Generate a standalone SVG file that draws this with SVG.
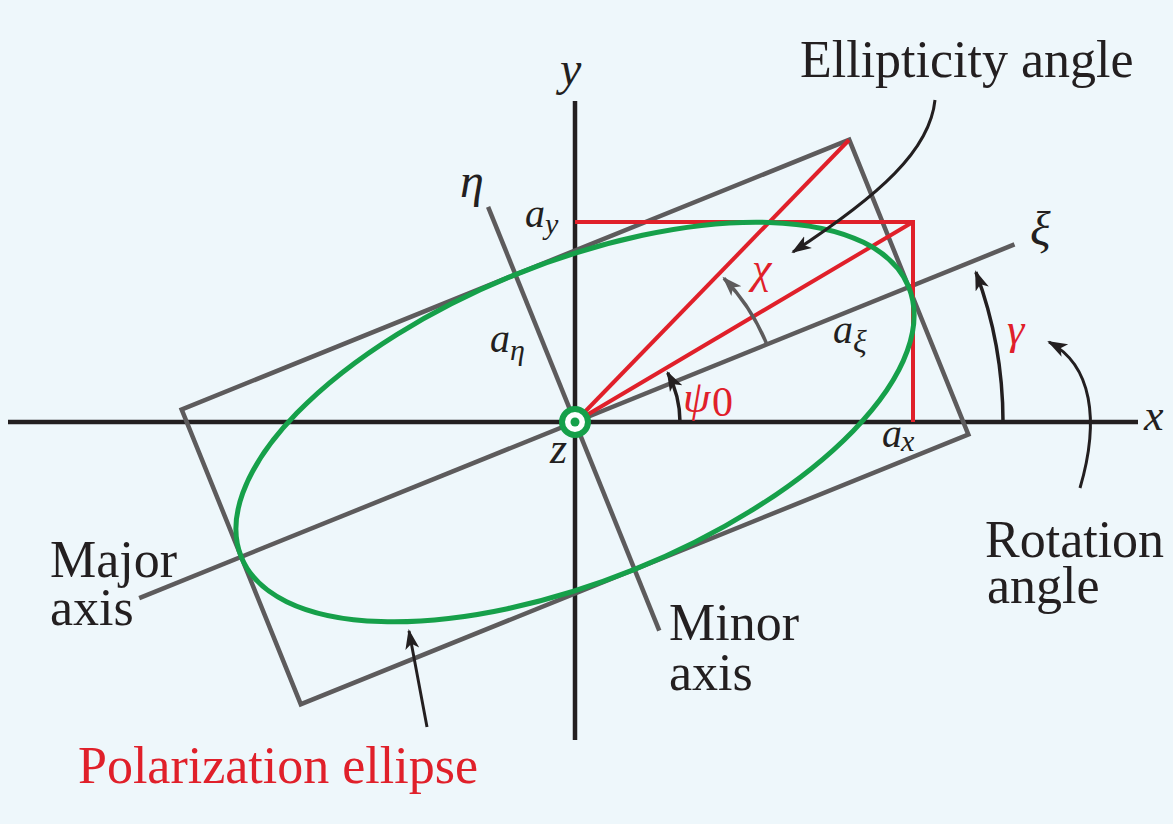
<svg xmlns="http://www.w3.org/2000/svg" width="1173" height="824" viewBox="0 0 1173 824">
<defs>
<style>
.lbl{font-family:"Liberation Serif","DejaVu Serif",serif;font-size:52px;fill:#231f20}
.it{font-family:"Liberation Serif","DejaVu Serif",serif;font-style:italic;fill:#231f20}
.up{font-family:"Liberation Serif","DejaVu Serif",serif;fill:#e0202a}
.red{fill:#e0202a}
.axis{stroke:#231f20;stroke-width:4.5;fill:none}
.gray{stroke:#5d5b5c;stroke-width:4.5;fill:none}
.redl{stroke:#e0202a;stroke-width:4;fill:none}
.ptr{stroke:#231f20;stroke-width:3;fill:none}
</style>
<marker id="ah" markerUnits="userSpaceOnUse" markerWidth="22" markerHeight="16" refX="18" refY="8" orient="auto">
<path d="M0,1 L20,8 L0,15 L5,8 Z" fill="#231f20"/>
</marker>
<marker id="ahg" markerUnits="userSpaceOnUse" markerWidth="22" markerHeight="16" refX="18" refY="8" orient="auto">
<path d="M0,1 L20,8 L0,15 L5,8 Z" fill="#5d5b5c"/>
</marker>
</defs>
<rect width="1173" height="824" fill="#eef7fb"/>

<g id="axes">
<line class="axis" x1="8" y1="422" x2="1138" y2="422"/>
<line class="axis" x1="575" y1="101" x2="575" y2="740"/>
</g>

<g id="rotated-frame" transform="translate(575,422) rotate(-22)">
<rect class="gray" x="-360" y="-159" width="720" height="318"/>
<line class="gray" x1="-470" y1="0" x2="474" y2="0"/>
<line class="gray" x1="0" y1="-232" x2="0" y2="225"/>
</g>

<g id="red-construction">
<polyline class="redl" points="575,222 913,222 913,422"/>
<line class="redl" x1="575" y1="422" x2="913" y2="222"/>
<line class="redl" x1="575" y1="422" x2="849" y2="140"/>
</g>

<g id="ellipse">
<ellipse cx="0" cy="0" rx="360" ry="159" transform="translate(575,422) rotate(-22)" fill="none" stroke="#16a04a" stroke-width="5"/>
</g>

<g id="origin">
<circle cx="575" cy="422" r="13" fill="#ffffff" stroke="#16a04a" stroke-width="6"/>
<circle cx="575" cy="422" r="4.5" fill="#16a04a"/>
</g>

<g id="connectors">
<path d="M680,422 A105,105 0 0 0 667.7,372.7" stroke="#231f20" stroke-width="3.5" fill="none" marker-end="url(#ah)"/>
<path d="M766.9,344.5 A207,207 0 0 0 723.9,278.2" stroke="#5d5b5c" stroke-width="3.5" fill="none" marker-end="url(#ahg)"/>
<path d="M1003,422 A428,428 0 0 0 975.9,272.1" stroke="#231f20" stroke-width="3.5" fill="none" marker-end="url(#ah)"/>
<path class="ptr" d="M935,100 C930,150 880,195 793,252" marker-end="url(#ah)"/>
<path class="ptr" d="M1080,488 C1100,420 1092,365 1049,342" marker-end="url(#ah)"/>
<path class="ptr" d="M427,727 L409,631" marker-end="url(#ah)"/>
</g>

<g id="labels">
<text class="lbl" x="800" y="77">Ellipticity angle</text>
<text class="lbl" x="50" y="577">Major</text>
<text class="lbl" x="50" y="625">axis</text>
<text class="lbl" x="669" y="640">Minor</text>
<text class="lbl" x="669" y="690">axis</text>
<text class="lbl" x="985" y="557">Rotation</text>
<text class="lbl" x="987" y="603">angle</text>
<text class="lbl red" x="78" y="783">Polarization ellipse</text>
</g>

<g id="math-labels">
<text class="it" x="560" y="85" font-size="48">y</text>
<text class="it" x="1144" y="430" font-size="44">x</text>
<text class="it" x="550" y="463" font-size="44">z</text>
<text class="it" x="460" y="197" font-size="48">η</text>
<text class="it" x="1030" y="245" font-size="48">ξ</text>
<text class="it" x="525" y="227" font-size="40">a</text>
<text class="it" x="545" y="234" font-size="30">y</text>
<text class="it" x="490" y="352" font-size="40">a</text>
<text class="it" x="510" y="360" font-size="30">η</text>
<text class="it" x="833" y="343" font-size="40">a</text>
<text class="it" x="853" y="352" font-size="32">ξ</text>
<text class="it" x="882" y="447" font-size="40">a</text>
<text class="it" x="901" y="451" font-size="30">x</text>
<text class="it red" x="752" y="283" font-size="44">χ</text>
<text class="it red" x="1007" y="344" font-size="44">γ</text>
<text class="it red" x="683" y="412" font-size="44">ψ</text>
<text class="up" x="712" y="416" font-size="42">0</text>
</g>
</svg>
